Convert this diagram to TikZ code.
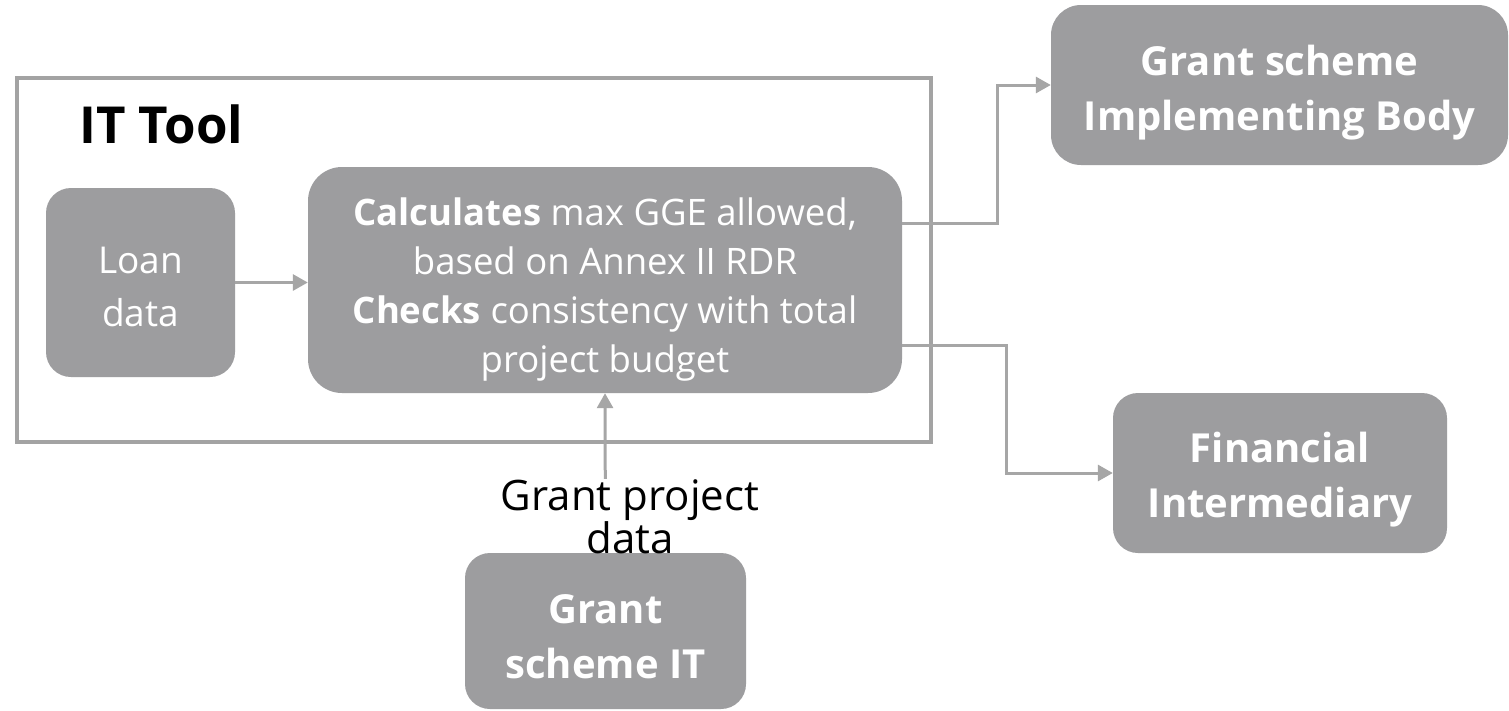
\documentclass[tikz,border=0pt]{standalone}
\usepackage{fontspec}
\setmainfont{Open Sans}
\usetikzlibrary{arrows.meta,calc}
\definecolor{boxgray}{HTML}{9D9D9F}
\definecolor{linegray}{HTML}{A6A6A6}
\definecolor{framegray}{HTML}{A3A3A3}
% invisible strut that lowers a node's text by half of #2
\newcommand{\pushdown}[2]{\vrule width 0pt height \dimexpr\fontcharht\font`#1+#2\relax}
\begin{document}
\begin{tikzpicture}[x=1pt,y=-1pt,
  box/.style={fill=boxgray, rounded corners=25pt, text=white, align=center, inner sep=0pt},
  boldtxt/.style={font=\fontsize{40}{55}\selectfont\bfseries},
  conn/.style={draw=linegray, line width=3pt, -{Triangle[length=15pt,width=16pt]}},
]
\path[fill=white] (0,0) rectangle (1509,710);
\useasboundingbox (0,0) rectangle (1509,710);
% IT tool frame
\draw[framegray, line width=4pt] (17,78) rectangle (931,442);
\node[anchor=base west, font=\fontsize{51}{60}\selectfont\bfseries, inner sep=0pt] (ittool) at (79,143) {IT Tool};
% boxes
\node[box, minimum width=189pt, minimum height=189pt, font=\fontsize{37}{53}\selectfont] (loan) at (140.5,282.5) {\pushdown{L}{8pt}Loan\\data};
\node[box, rounded corners=34pt, minimum width=594pt, minimum height=226pt, font=\fontsize{36.5}{49}\selectfont] (calc) at (605,280)
  {\pushdown{l}{20pt}\textbf{Calculates} max GGE allowed,\\based on Annex II RDR\\\textbf{Checks} consistency with total\\project budget};
\node[box, rounded corners=30pt, boldtxt, minimum width=457pt, minimum height=160pt] (gsib) at (1279.5,85) {\pushdown{h}{16pt}Grant scheme\\Implementing Body};
\node[box, boldtxt, minimum width=334pt, minimum height=160pt] (fi) at (1280,473) {\pushdown{l}{14pt}Financial\\Intermediary};
\node[box, boldtxt, minimum width=281pt, minimum height=156pt] (git) at (605.5,631) {\pushdown{G}{12pt}Grant\\scheme IT};
% connectors
\draw[conn] (loan.east) -- (loan.east -| calc.west);
\draw[conn] ([yshift=57pt]calc.east) -- ++(95,0) |- (gsib.west);
\draw[conn] ([yshift=-65pt]calc.east) -- ++(104,0) |- (fi.west);
\draw[conn] (git.north) -- (calc.south);
% label
\node[fill=white, inner sep=0pt, align=center, font=\fontsize{42}{40}\selectfont, anchor=north] (gpd) at (630,479) {Grant project\\data};
\end{tikzpicture}
\end{document}
